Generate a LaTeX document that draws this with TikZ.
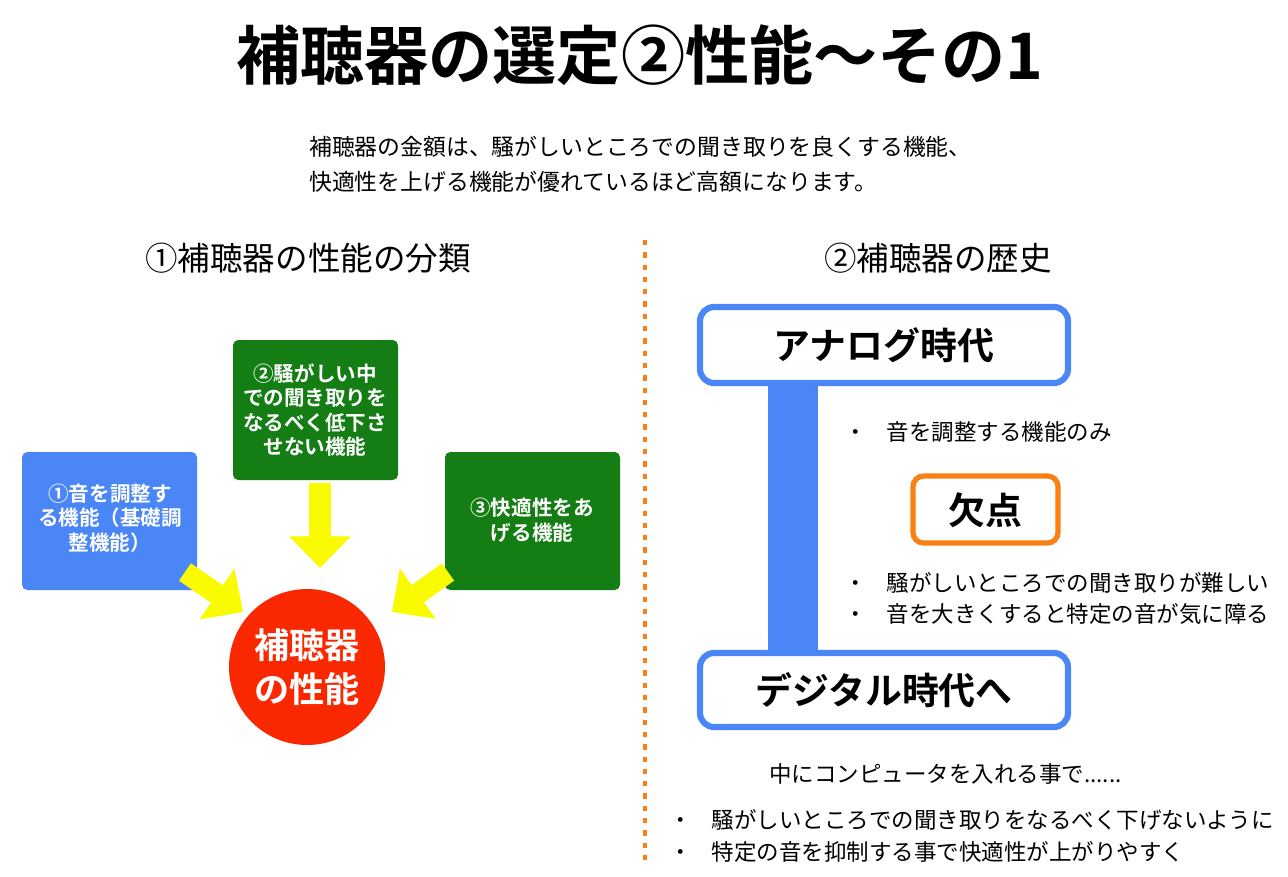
\documentclass[tikz,border=0pt]{standalone}
\usepackage{fontspec}
\setmainfont{Noto Sans CJK JP}[BoldFont={Noto Sans CJK JP Bold}]
\usetikzlibrary{arrows.meta}
\definecolor{boxblue}{RGB}{74,134,245}
\definecolor{boxgreen}{RGB}{20,126,20}
\definecolor{circred}{RGB}{250,40,0}
\definecolor{markorange}{RGB}{248,128,20}
\definecolor{arrowyellow}{RGB}{250,250,0}

\begin{document}
\begin{tikzpicture}[x=0.02cm,y=-0.02cm,
    kind/.style = {text=white, font=\fontsize{11.7}{14}\selectfont\bfseries, align=center, inner sep=0pt},
    era/.style = {draw=boxblue, line width=3.5pt, rounded corners=8pt, fill=white},
    push/.style = {arrowyellow, line width=12pt, -{Triangle[length=18pt,width=34pt]}},
    note/.style = {anchor=west, font=\fontsize{12.8}{14}\selectfont}]
    \useasboundingbox (0,0) rectangle (1288,876);

    \node (title) at (640,55) {\fontsize{36.5}{42}\selectfont\bfseries 補聴器の選定②性能〜その1};
    \node[anchor=west, align=left, font=\fontsize{13}{20}\selectfont] (lead) at (303,164)
        {補聴器の金額は、騒がしいところでの聞き取りを良くする機能、\\快適性を上げる機能が優れているほど高額になります。};

    \node (lefthead) at (308,258) {\fontsize{18.5}{21}\selectfont ①補聴器の性能の分類};
    \node (righthead) at (938,258) {\fontsize{18.5}{21}\selectfont ②補聴器の歴史};
    \draw[markorange, line width=2.5pt, dash pattern=on 3pt off 4pt] (645,240) -- (645,865);

    % classification
    \fill[boxgreen, rounded corners=3pt] (233,340) rectangle (398,480);
    \fill[boxblue, rounded corners=3pt] (22,452) rectangle (197,590);
    \fill[boxgreen, rounded corners=3pt] (445,452) rectangle (620,590);
    \node[kind] (noise) at (315,410) {②騒がしい中\\での聞き取りを\\なるべく低下さ\\せない機能};
    \node[kind] (basic) at (110,518) {①音を調整す\\る機能（基礎調\\整機能）};
    \node[kind] (comfort) at (532,520) {③快適性をあ\\げる機能};
    \node[circle, fill=circred, minimum size=3.12cm, text=white, align=center,
        font=\fontsize{20}{25}\selectfont\bfseries] (perf) at (307,667) {補聴器\\の性能};

    \draw[push] (320,483) -- (320,568);
    \draw[push] (185,572) -- (243,612);
    \draw[push] (448,572) -- (392,612);

    % history
    \fill[boxblue] (768,380) rectangle (818,658);
    \draw[era] (700,307) rectangle (1068,383);
    \node (analog) at (884,345) {\fontsize{21}{24}\selectfont\bfseries アナログ時代};
    \draw[era] (700,653) rectangle (1068,727);
    \node (digital) at (884,690) {\fontsize{21}{24}\selectfont\bfseries デジタル時代へ};
    \draw[markorange, line width=3pt, rounded corners=6pt, fill=white] (913,476) rectangle (1058,543);
    \node (flaw) at (985,510) {\fontsize{21}{24}\selectfont\bfseries 欠点};

    \node[note] (only) at (838,432) {・\hspace{0.9em}音を調整する機能のみ};
    \node[note] (hard) at (838,583) {・\hspace{0.9em}騒がしいところでの聞き取りが難しい};
    \node[note] (loud) at (838,614) {・\hspace{0.9em}音を大きくすると特定の音が気に障る};
    \node[note] (pc) at (763,774) {中にコンピュータを入れる事で......};
    \node[note] (keep) at (663,820) {・\hspace{0.9em}騒がしいところでの聞き取りをなるべく下げないように};
    \node[note] (calm) at (663,852) {・\hspace{0.9em}特定の音を抑制する事で快適性が上がりやすく};
\end{tikzpicture}
\end{document}
